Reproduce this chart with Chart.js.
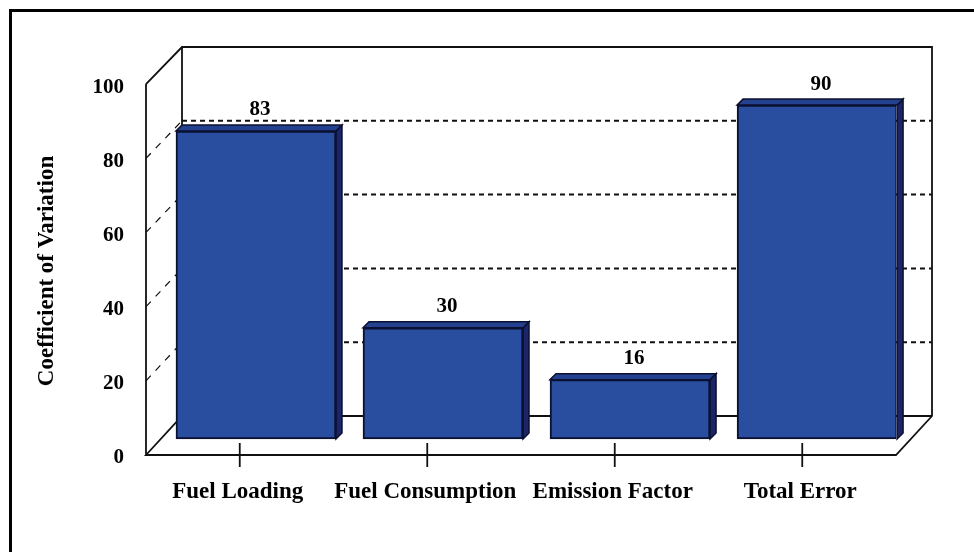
<!DOCTYPE html>
<html lang="en">
<head>
<meta charset="UTF-8">
<title>Coefficient of Variation</title>
<script src="https://cdn.jsdelivr.net/npm/chart.js"></script>
<style>
  html, body { margin: 0; padding: 0; background: #fff; }
  #wrap { position: relative; width: 974px; height: 552px; overflow: hidden; }
  #frame { position: absolute; left: 9px; top: 9px; width: 1000px; height: 600px; border: 3.5px solid #000; }
  canvas { position: absolute; left: 0; top: 0; }
</style>
</head>
<body>
<div id="wrap">
  <div id="frame"></div>
  <canvas id="chart" width="974" height="552"></canvas>
</div>
<script>
const categories = ['Fuel Loading', 'Fuel Consumption', 'Emission Factor', 'Total Error'];
const cov = [83, 30, 16, 90];
const yTicks = [0, 20, 40, 60, 80, 100];

const FAMILY = '"Liberation Serif", serif';
const WALL_DX = 36;   // depth of the box
const BAR_D = 6;      // depth of each bar

const threeD = {
  id: 'threeD',
  beforeDatasetsDraw(chart) {
    const { ctx, scales } = chart;
    const y = scales.y, back = scales.yBack, x = scales.x;
    const l = x.left, r = x.right, b = y.getPixelForValue(0);
    const top = back.getPixelForValue(100), floor = back.getPixelForValue(0);
    ctx.save();
    ctx.strokeStyle = '#111';

    // dashed lines on the back and left walls
    yTicks.slice(1, -1).forEach(v => {
      const py = back.getPixelForValue(v);
      ctx.lineWidth = 2;
      ctx.setLineDash([5, 4]);
      ctx.beginPath();
      ctx.moveTo(l + WALL_DX, py);
      ctx.lineTo(r + WALL_DX, py);
      ctx.stroke();
      ctx.lineWidth = 1.2;
      ctx.setLineDash([7, 7]);
      ctx.beginPath();
      ctx.moveTo(l, y.getPixelForValue(v));
      ctx.lineTo(l + WALL_DX, py);
      ctx.stroke();
    });
    ctx.setLineDash([]);

    // box outline
    ctx.lineWidth = 1.8;
    ctx.beginPath();
    ctx.moveTo(l, y.getPixelForValue(100));
    ctx.lineTo(l + WALL_DX, top);
    ctx.lineTo(r + WALL_DX, top);
    ctx.lineTo(r + WALL_DX, floor);
    ctx.lineTo(r, b);
    ctx.lineTo(l, b);
    ctx.lineTo(l + WALL_DX, floor);
    ctx.lineTo(r + WALL_DX, floor);
    ctx.moveTo(l + WALL_DX, top);
    ctx.lineTo(l + WALL_DX, floor);
    ctx.moveTo(l, y.getPixelForValue(100));
    ctx.lineTo(l, b);
    ctx.stroke();

    // x tick marks, they cross the axis line
    x.ticks.forEach((t, i) => {
      const px = x.getPixelForTick(i);
      ctx.beginPath();
      ctx.moveTo(px, b - 12);
      ctx.lineTo(px, b + 12);
      ctx.stroke();
    });

    // top and side of each bar, behind the front face
    chart.getDatasetMeta(0).data.forEach(bar => {
      const half = bar.width / 2;
      const L = bar.x - half, R = bar.x + half, T = bar.y, B = bar.base;
      ctx.lineWidth = 1.5;
      ctx.strokeStyle = '#0b1030';
      ctx.fillStyle = '#1b2568';
      ctx.beginPath();
      ctx.moveTo(R, T);
      ctx.lineTo(R + BAR_D, T - BAR_D);
      ctx.lineTo(R + BAR_D, B - BAR_D);
      ctx.lineTo(R, B);
      ctx.closePath();
      ctx.fill();
      ctx.stroke();
      ctx.fillStyle = '#24418f';
      ctx.beginPath();
      ctx.moveTo(L, T);
      ctx.lineTo(L + BAR_D, T - BAR_D);
      ctx.lineTo(R + BAR_D, T - BAR_D);
      ctx.lineTo(R, T);
      ctx.closePath();
      ctx.fill();
      ctx.stroke();
    });
    ctx.restore();
  },
  afterDatasetsDraw(chart) {
    const { ctx } = chart;
    ctx.save();
    ctx.font = 'bold 21px ' + FAMILY;
    ctx.fillStyle = '#000';
    ctx.textAlign = 'center';
    ctx.textBaseline = 'middle';
    chart.getDatasetMeta(0).data.forEach((bar, i) => {
      ctx.fillText(cov[i], bar.x + 4, bar.y - 21);
    });
    ctx.restore();
  }
};

new Chart(document.getElementById('chart'), {
  type: 'bar',
  data: {
    labels: categories,
    datasets: [{
      data: cov.map((v, i) => ({ x: i, y: v })),
      xAxisID: 'xBars',
      yAxisID: 'yBars',
      backgroundColor: '#2a4e9f',
      borderColor: '#0b1030',
      borderWidth: 2,
      borderSkipped: false,
      barThickness: 160
    }]
  },
  options: {
    responsive: false,
    animation: false,
    devicePixelRatio: 1,
    layout: { padding: { left: 0, right: 78, top: 47, bottom: 0 } },
    plugins: { legend: { display: false }, tooltip: { enabled: false } },
    scales: {
      x: {
        type: 'category',
        position: 'bottom',
        afterFit(s) { s.height = 97; },
        grid: { display: false },
        border: { display: false },
        ticks: { color: '#000', font: { family: FAMILY, size: 23, weight: 'bold' }, padding: 15, labelOffset: -2, maxRotation: 0, autoSkip: false }
      },
      // same pixels as x, moved right: the bars stand off the front of the box
      xBars: { type: 'linear', display: false, offset: false, min: -0.588, max: 3.422 },
      y: {
        position: 'left',
        min: 0,
        max: 110,
        afterBuildTicks(s) { s.ticks = yTicks.map(v => ({ value: v })); },
        afterFit(s) { s.width = 146; },
        grid: { display: false },
        border: { display: false },
        ticks: { color: '#000', font: { family: FAMILY, size: 21, weight: 'bold' }, padding: 14, labelOffset: 3 }
      },
      yBars: { display: false, min: -4.31, max: 105.66 },
      yBack: { display: false, min: -10.57, max: 100 }
    }
  },
  plugins: [threeD, {
    id: 'yTitle',
    afterDraw(chart) {
      const { ctx } = chart;
      ctx.save();
      ctx.translate(47, 271);
      ctx.rotate(-Math.PI / 2);
      ctx.font = 'bold 23px ' + FAMILY;
      ctx.fillStyle = '#000';
      ctx.textAlign = 'center';
      ctx.textBaseline = 'middle';
      ctx.fillText('Coefficient of Variation', 0, 0);
      ctx.restore();
    }
  }]
});
</script>
</body>
</html>
